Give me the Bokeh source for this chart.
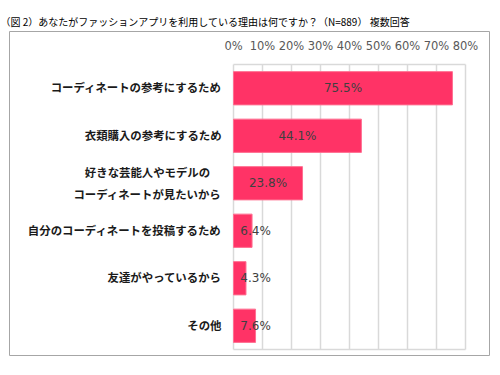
from bokeh.plotting import figure
from bokeh.models import Range1d, ColumnDataSource
from bokeh.core.properties import value
from bokeh.embed import file_html
from bokeh.resources import INLINE

title_text = "（図 2）あなたがファッションアプリを利用している理由は何ですか？（N=889） 複数回答"
categories = [
    "コーディネートの参考にするため",
    "衣類購入の参考にするため",
    "好きな芸能人やモデルの\nコーディネートが見たいから",
    "自分のコーディネートを投稿するため",
    "友達がやっているから",
    "その他",
]
values = [75.5, 44.1, 23.8, 6.4, 4.3, 7.6]
value_labels = ["75.5%", "44.1%", "23.8%", "6.4%", "4.3%", "7.6%"]
ticks = [0, 10, 20, 30, 40, 50, 60, 70, 80]
tick_labels = ["0%", "10%", "20%", "30%", "40%", "50%", "60%", "70%", "80%"]

JP = "Noto Sans CJK JP"
NUM = "DejaVu Sans"
BAR = "#ff3366"

n = len(categories)
ypos = [i + 0.5 for i in range(n)]

PX_PER_UNIT = 2.9
STEP = 47.5
x_start = -224 / PX_PER_UNIT
x_end = x_start + 480 / PX_PER_UNIT
y_top = -33 / STEP
y_bottom = y_top + 324 / STEP

p = figure(width=492, height=359, output_backend="svg", toolbar_location=None,
           x_range=Range1d(x_start, x_end), y_range=Range1d(y_bottom, y_top),
           x_axis_location=None, y_axis_location=None,
           min_border_left=9, min_border_right=3, min_border_top=31, min_border_bottom=4)
p.xgrid.grid_line_color = None
p.ygrid.grid_line_color = None
p.outline_line_color = "#a6a6a6"
p.outline_line_width = 1
p.background_fill_color = "white"
p.border_fill_color = "white"

p.title.text = title_text
p.title.text_font = JP
p.title.text_font_size = "10px"
p.title.text_font_style = "normal"
p.title.text_color = "#000000"
p.title.align = "left"
p.title.standoff = 6
p.title.offset = -9

# gridlines from ticks
p.segment(x0=ticks, y0=[0] * len(ticks), x1=ticks, y1=[n] * len(ticks),
          line_color="#d9d9d9", line_width=1.5)
p.segment(x0=[ticks[0], ticks[0]], y0=[0, n], x1=[ticks[-1], ticks[-1]], y1=[0, n],
          line_color="#d9d9d9", line_width=1.5)

# bars
p.hbar(y=ypos, left=0, right=values, height=0.7, fill_color=BAR,
       line_color="#ff6f91", line_width=1)

# value labels
min_center = 7.6
label_x = [max(v / 2, min_center) for v in values]
p.text(x=label_x, y=ypos, text=value_labels, text_align="center", text_baseline="middle",
       text_font=value(NUM), text_font_size="12px", text_color="#404040")

# tick labels
p.text(x=ticks, y=[y_top + 14 / STEP] * len(ticks), text=tick_labels,
       text_align="center", text_baseline="middle",
       text_font=value(NUM), text_font_size="11.5px", text_color="#595959")

# category labels
single = dict(x=[], y=[], t=[])
multi = dict(x=[], y=[], t=[], yo=[])
for yv, lab in zip(ypos, categories):
    lines = lab.split("\n")
    if len(lines) == 1:
        single["x"].append(0); single["y"].append(yv); single["t"].append(lab)
    else:
        k = len(lines)
        for j, ln in enumerate(lines):
            multi["x"].append(0); multi["y"].append(yv); multi["t"].append(ln)
            multi["yo"].append((j - (k - 1) / 2) * 21.5 - 0.5)
p.text(x=single["x"], y=single["y"], text=single["t"], text_align="right",
       text_baseline="middle", x_offset=-12, y_offset=-1,
       text_font=value(JP), text_font_size="11.4px", text_font_style="bold",
       text_color="#1a1a1a")
src = ColumnDataSource(dict(x=multi["x"], y=multi["y"], text=multi["t"], yo=multi["yo"]))
p.text(x="x", y="y", text="text", y_offset="yo", x_offset=-86, source=src,
       text_align="center", text_baseline="middle",
       text_font=value(JP), text_font_size="11.4px", text_font_style="bold",
       text_color="#1a1a1a")

open("out.html", "w").write(file_html(p, INLINE))
